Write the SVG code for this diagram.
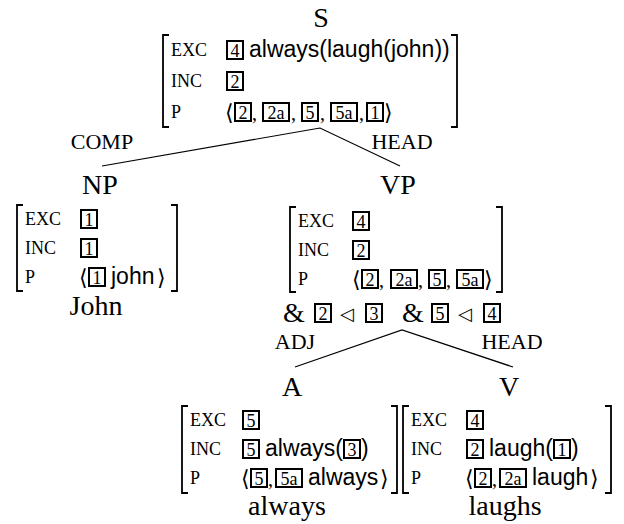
<svg xmlns="http://www.w3.org/2000/svg" width="624" height="524" viewBox="0 0 624 524">
<style>
.lab{font-family:"Liberation Serif",serif;font-size:28px;text-anchor:middle;fill:#000}
.arc{font-family:"Liberation Serif",serif;font-size:22px;text-anchor:middle;fill:#000}
.ft{font-family:"Liberation Serif",serif;font-size:18px;fill:#000}
.sf{font-family:"Liberation Sans",sans-serif;font-size:23px;fill:#000}
.ang{font-family:"DejaVu Serif",serif;font-size:22px;fill:#000}
.cm{font-family:"Liberation Serif",serif;font-size:20px;fill:#000}
.amp{font-family:"Liberation Serif",serif;font-size:28px;fill:#000}
.tri{font-family:"DejaVu Sans",sans-serif;font-size:18px;fill:#000}
.bx{fill:none;stroke:#000;stroke-width:2}
.dg{font-family:"Liberation Serif",serif;font-size:18px;text-anchor:middle;fill:#000}
.br{fill:none;stroke:#000;stroke-width:1.8}
.ln{fill:none;stroke:#000;stroke-width:1.2}
</style>

<g id="connectors">
<polyline class="ln" points="102,166 320,128 400,166"/>
<polyline class="ln" points="295,367 402,330 513,367"/>
<text class="arc" x="102" y="149">COMP</text>
<text class="arc" x="402" y="149">HEAD</text>
<text class="arc" x="295" y="349">ADJ</text>
<text class="arc" x="512" y="349">HEAD</text>
</g>

<g id="S">
<text class="lab" x="321" y="27">S</text>
<path class="br" d="M169,35 H163 V127 H169"/>
<path class="br" d="M451,35 H457 V127 H451"/>
<text class="ft" x="171" y="56">EXC</text>
<rect class="bx" x="227" y="41" width="16" height="18"/><text class="dg" x="235" y="56.5">4</text>
<text class="sf" x="249" y="57">always(laugh(john))</text>
<text class="ft" x="171" y="87">INC</text>
<rect class="bx" x="227" y="72" width="16" height="18"/><text class="dg" x="235" y="87.5">2</text>
<text class="ft" x="171" y="118">P</text>
<text class="ang" x="225" y="120">⟨</text>
<rect class="bx" x="235" y="103" width="16" height="18"/><text class="dg" x="243" y="118.5">2</text>
<text class="cm" x="252" y="120">,</text>
<rect class="bx" x="263" y="103" width="26" height="18"/><text class="dg" x="276" y="118.5">2a</text>
<text class="cm" x="291" y="120">,</text>
<rect class="bx" x="302" y="103" width="16" height="18"/><text class="dg" x="310" y="118.5">5</text>
<text class="cm" x="320" y="120">,</text>
<rect class="bx" x="331" y="103" width="26" height="18"/><text class="dg" x="344" y="118.5">5a</text>
<text class="cm" x="359" y="120">,</text>
<rect class="bx" x="367" y="103" width="16" height="18"/><text class="dg" x="375" y="118.5">1</text>
<text class="ang" x="384" y="120">⟩</text>
</g>

<g id="NP">
<text class="lab" x="100" y="194">NP</text>
<path class="br" d="M23,205 H17 V291 H23"/>
<path class="br" d="M171,205 H177 V291 H171"/>
<text class="ft" x="25" y="225">EXC</text>
<rect class="bx" x="81" y="210" width="16" height="18"/><text class="dg" x="89" y="225.5">1</text>
<text class="ft" x="25" y="254">INC</text>
<rect class="bx" x="81" y="239" width="16" height="18"/><text class="dg" x="89" y="254.5">1</text>
<text class="ft" x="25" y="283">P</text>
<text class="ang" x="79" y="285">⟨</text>
<rect class="bx" x="89" y="268" width="16" height="18"/><text class="dg" x="97" y="283.5">1</text>
<text class="sf" x="111" y="284">john</text>
<text class="ang" x="157" y="285">⟩</text>
<text class="lab" x="96" y="315">John</text>
</g>

<g id="VP">
<text class="lab" x="398" y="194">VP</text>
<path class="br" d="M296,207 H290 V292 H296"/>
<path class="br" d="M496,207 H502 V292 H496"/>
<text class="ft" x="298" y="227">EXC</text>
<rect class="bx" x="353" y="212" width="16" height="18"/><text class="dg" x="361" y="227.5">4</text>
<text class="ft" x="298" y="256">INC</text>
<rect class="bx" x="353" y="241" width="16" height="18"/><text class="dg" x="361" y="256.5">2</text>
<text class="ft" x="298" y="285">P</text>
<text class="ang" x="352" y="287">⟨</text>
<rect class="bx" x="362" y="270" width="16" height="18"/><text class="dg" x="370" y="285.5">2</text>
<text class="cm" x="379" y="287">,</text>
<rect class="bx" x="391" y="270" width="26" height="18"/><text class="dg" x="404" y="285.5">2a</text>
<text class="cm" x="418" y="287">,</text>
<rect class="bx" x="429" y="270" width="16" height="18"/><text class="dg" x="437" y="285.5">5</text>
<text class="cm" x="446" y="287">,</text>
<rect class="bx" x="457" y="270" width="26" height="18"/><text class="dg" x="470" y="285.5">5a</text>
<text class="ang" x="484" y="287">⟩</text>
<text class="amp" x="283" y="322">&amp;</text>
<rect class="bx" x="315" y="304" width="16" height="18"/><text class="dg" x="323" y="319.5">2</text>
<text class="tri" x="340" y="320">◁</text>
<rect class="bx" x="366" y="304" width="16" height="18"/><text class="dg" x="374" y="319.5">3</text>
<text class="amp" x="402" y="322">&amp;</text>
<rect class="bx" x="432" y="304" width="16" height="18"/><text class="dg" x="440" y="319.5">5</text>
<text class="tri" x="458" y="320">◁</text>
<rect class="bx" x="484" y="304" width="16" height="18"/><text class="dg" x="492" y="319.5">4</text>
</g>

<g id="A">
<text class="lab" x="292" y="396">A</text>
<path class="br" d="M188,406 H182 V493 H188"/>
<path class="br" d="M391,406 H397 V493 H391"/>
<text class="ft" x="190" y="426">EXC</text>
<rect class="bx" x="243" y="411" width="16" height="18"/><text class="dg" x="251" y="426.5">5</text>
<text class="ft" x="190" y="455">INC</text>
<rect class="bx" x="243" y="440" width="16" height="18"/><text class="dg" x="251" y="455.5">5</text>
<text class="sf" x="265" y="456">always(</text>
<rect class="bx" x="344" y="440" width="16" height="18"/><text class="dg" x="352" y="455.5">3</text>
<text class="sf" x="361" y="456">)</text>
<text class="ft" x="190" y="484">P</text>
<text class="ang" x="241" y="486">⟨</text>
<rect class="bx" x="251" y="469" width="16" height="18"/><text class="dg" x="259" y="484.5">5</text>
<text class="cm" x="268" y="486">,</text>
<rect class="bx" x="276" y="469" width="26" height="18"/><text class="dg" x="289" y="484.5">5a</text>
<text class="sf" x="308" y="485">always</text>
<text class="ang" x="380" y="486">⟩</text>
<text class="lab" x="287" y="515">always</text>
</g>

<g id="V">
<text class="lab" x="509" y="396">V</text>
<path class="br" d="M409,406 H403 V493 H409"/>
<path class="br" d="M605,406 H611 V493 H605"/>
<text class="ft" x="411" y="426">EXC</text>
<rect class="bx" x="467" y="411" width="16" height="18"/><text class="dg" x="475" y="426.5">4</text>
<text class="ft" x="411" y="455">INC</text>
<rect class="bx" x="467" y="440" width="16" height="18"/><text class="dg" x="475" y="455.5">2</text>
<text class="sf" x="489" y="456">laugh(</text>
<rect class="bx" x="554" y="440" width="16" height="18"/><text class="dg" x="562" y="455.5">1</text>
<text class="sf" x="571" y="456">)</text>
<text class="ft" x="411" y="484">P</text>
<text class="ang" x="465" y="486">⟨</text>
<rect class="bx" x="475" y="469" width="16" height="18"/><text class="dg" x="483" y="484.5">2</text>
<text class="cm" x="492" y="486">,</text>
<rect class="bx" x="500" y="469" width="26" height="18"/><text class="dg" x="513" y="484.5">2a</text>
<text class="sf" x="532" y="485">laugh</text>
<text class="ang" x="590" y="486">⟩</text>
<text class="lab" x="505" y="515">laughs</text>
</g>
</svg>
